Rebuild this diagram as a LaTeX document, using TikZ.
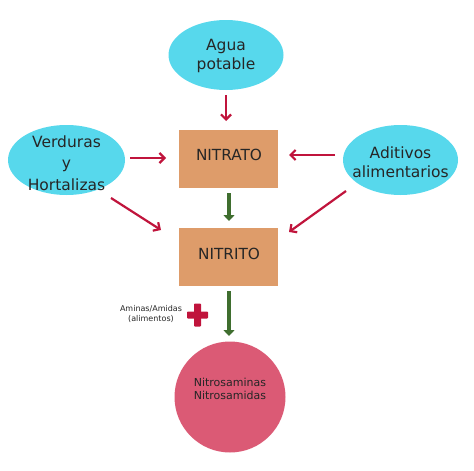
\documentclass[tikz,border=0pt]{standalone}
\usepackage{fontspec}
\setmainfont{DejaVu Sans}
\usetikzlibrary{arrows.meta,shapes.geometric}
\definecolor{cyanfill}{HTML}{57D8EC}
\definecolor{boxfill}{HTML}{DE9C6A}
\definecolor{circfill}{HTML}{DB5A75}
\definecolor{redarr}{HTML}{C0143C}
\definecolor{greenarr}{HTML}{3F6E2F}
\begin{document}
\begin{tikzpicture}[x=1pt,y=-1pt,
  src/.style={ellipse,fill=cyanfill,minimum width=115pt,minimum height=70pt,inner sep=0pt},
  srctext/.style={align=center,inner sep=0pt,font=\fontsize{15.5}{18.5}\selectfont,text=black!85},
  chem/.style={rectangle,fill=boxfill,minimum width=99pt,minimum height=58pt,inner sep=0pt},
  chemtext/.style={inner sep=0pt,font=\fontsize{15.3}{18}\selectfont,text=black!85},
  redarrow/.style={draw=redarr,line width=2.2pt,-{Straight Barb[length=5pt,width=10pt,line width=2.2pt]}},
  greenarrow/.style={draw=greenarr,line width=3.5pt,-{Triangle[length=6pt,width=11pt]}}]
\useasboundingbox (0,0) rectangle (474,471);
\node[src] (agua) at (226,55) {};
\node[srctext] (aguat) at (226,56) {Agua\\potable};
\node[src,minimum width=117pt] (verd) at (66.5,160) {};
\node[srctext,font=\fontsize{15.5}{21.5}\selectfont] (verdt) at (66.5,163) {Verduras\\y\\Hortalizas};
\node[src] (adit) at (400.5,160) {};
\node[srctext] (aditt) at (400.5,162) {Aditivos\\alimentarios};
\node[chem] (nitrato) at (228,159) {};
\node[chemtext] (nitratot) at (229,155) {NITRATO};
\node[chem] (nitrito) at (228,257) {};
\node[chemtext] (nitritot) at (229,254) {NITRITO};
\node[circle,fill=circfill,minimum size=111pt,inner sep=0pt] (prod) at (230,397) {};
\node[align=center,inner sep=0pt,font=\fontsize{11}{13}\selectfont,text=black!85] (prodt) at (230,389) {Nitrosaminas\\Nitrosamidas};
\coordinate (a1) at (226,95); \coordinate (a2) at (226,121);
\draw[redarrow] (a1) -- (a2);
\coordinate (v1) at (130,158); \coordinate (v2) at (166,158);
\draw[redarrow] (v1) -- (v2);
\coordinate (d1) at (335,155); \coordinate (d2) at (289,155);
\draw[redarrow] (d1) -- (d2);
\coordinate (v3) at (111,198); \coordinate (v4) at (161,230);
\draw[redarrow] (v3) -- (v4);
\coordinate (d3) at (346,191); \coordinate (d4) at (289,232);
\draw[redarrow] (d3) -- (d4);
\coordinate (g1) at (229,193); \coordinate (g2) at (229,221);
\draw[greenarrow] (g1) -- (g2);
\coordinate (g3) at (229,291); \coordinate (g4) at (229,336);
\draw[greenarrow] (g3) -- (g4);
\node[align=center,font=\fontsize{8}{10}\selectfont,text=black!85] (amin) at (151,314) {Aminas/Amidas\\(alimentos)};
\node[inner sep=0pt] (plus) at (197.5,315) {};
\fill[redarr,rounded corners=0.8pt] ([xshift=-10.5pt,yshift=-3.5pt]plus.center) rectangle ([xshift=10.5pt,yshift=3.5pt]plus.center);
\fill[redarr,rounded corners=0.8pt] ([xshift=-3.5pt,yshift=-11.5pt]plus.center) rectangle ([xshift=3.5pt,yshift=11.5pt]plus.center);
\end{tikzpicture}
\end{document}
